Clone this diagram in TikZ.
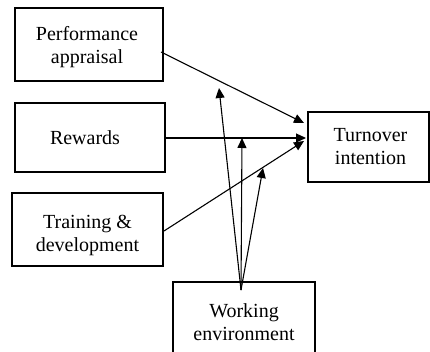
\documentclass[tikz,border=0pt]{standalone}
\usepackage{fontspec}
\setmainfont{Liberation Serif}
\usetikzlibrary{arrows.meta}
\begin{document}
\begin{tikzpicture}[x=1pt,y=-1pt,
  boxnode/.style={draw=black, line width=2pt, inner sep=0pt},
  txtnode/.style={inner sep=0pt, align=center, font=\fontsize{20}{23}\selectfont},
  conn/.style={draw=black, line width=1.1pt, -{Triangle[length=10pt,width=9pt]}}]
\useasboundingbox (0,0) rectangle (430,352);
% boxes
\node[boxnode, minimum width=148pt, minimum height=73pt] (pa) at (89,44.5) {};
\node[boxnode, minimum width=150pt, minimum height=69pt] (rw) at (90,137.5) {};
\node[boxnode, minimum width=151pt, minimum height=73pt] (td) at (87.5,229.5) {};
\node[boxnode, minimum width=121pt, minimum height=70pt] (ti) at (368.5,147) {};
\node[boxnode, minimum width=142pt, minimum height=74pt] (we) at (244,319) {};
% texts
\node[txtnode] (pat) at (87,46.8) {Performance\\appraisal};
\node[txtnode] (rwt) at (85,138) {Rewards};
\node[txtnode] (tdt) at (87.5,235.8) {Training \&\\development};
\node[txtnode] (tit) at (370.5,147) {Turnover\\intention};
\node[txtnode] (wet) at (244,322.6) {Working\\environment};
% connector end points
\coordinate (pa-out) at ([yshift=-7.5pt,xshift=-3pt]pa.east);
\coordinate (rw-out) at ([yshift=-0.5pt]rw.east);
\coordinate (td-out) at ([yshift=-1.5pt]td.east);
\coordinate (ti-in1) at ([xshift=-3pt,yshift=24pt]ti.west);
\coordinate (ti-in2) at ([xshift=-1pt,yshift=9pt]ti.west);
\coordinate (ti-in3) at ([xshift=-3pt,yshift=6pt]ti.west);
\coordinate (we-out) at ([yshift=-9pt,xshift=-3pt]we.north);
\coordinate (m1) at (219,88);
\coordinate (m2) at (242,138);
\coordinate (m3) at (263,168);
% connectors
\draw[conn] (pa-out) -- (ti-in1);
\draw[conn] (rw-out) -- (ti-in2);
\draw[conn] (td-out) -- (ti-in3);
\draw[conn] (we-out) -- (m1);
\draw[conn] (we-out) -- (m2);
\draw[conn] (we-out) -- (m3);
\end{tikzpicture}
\end{document}
